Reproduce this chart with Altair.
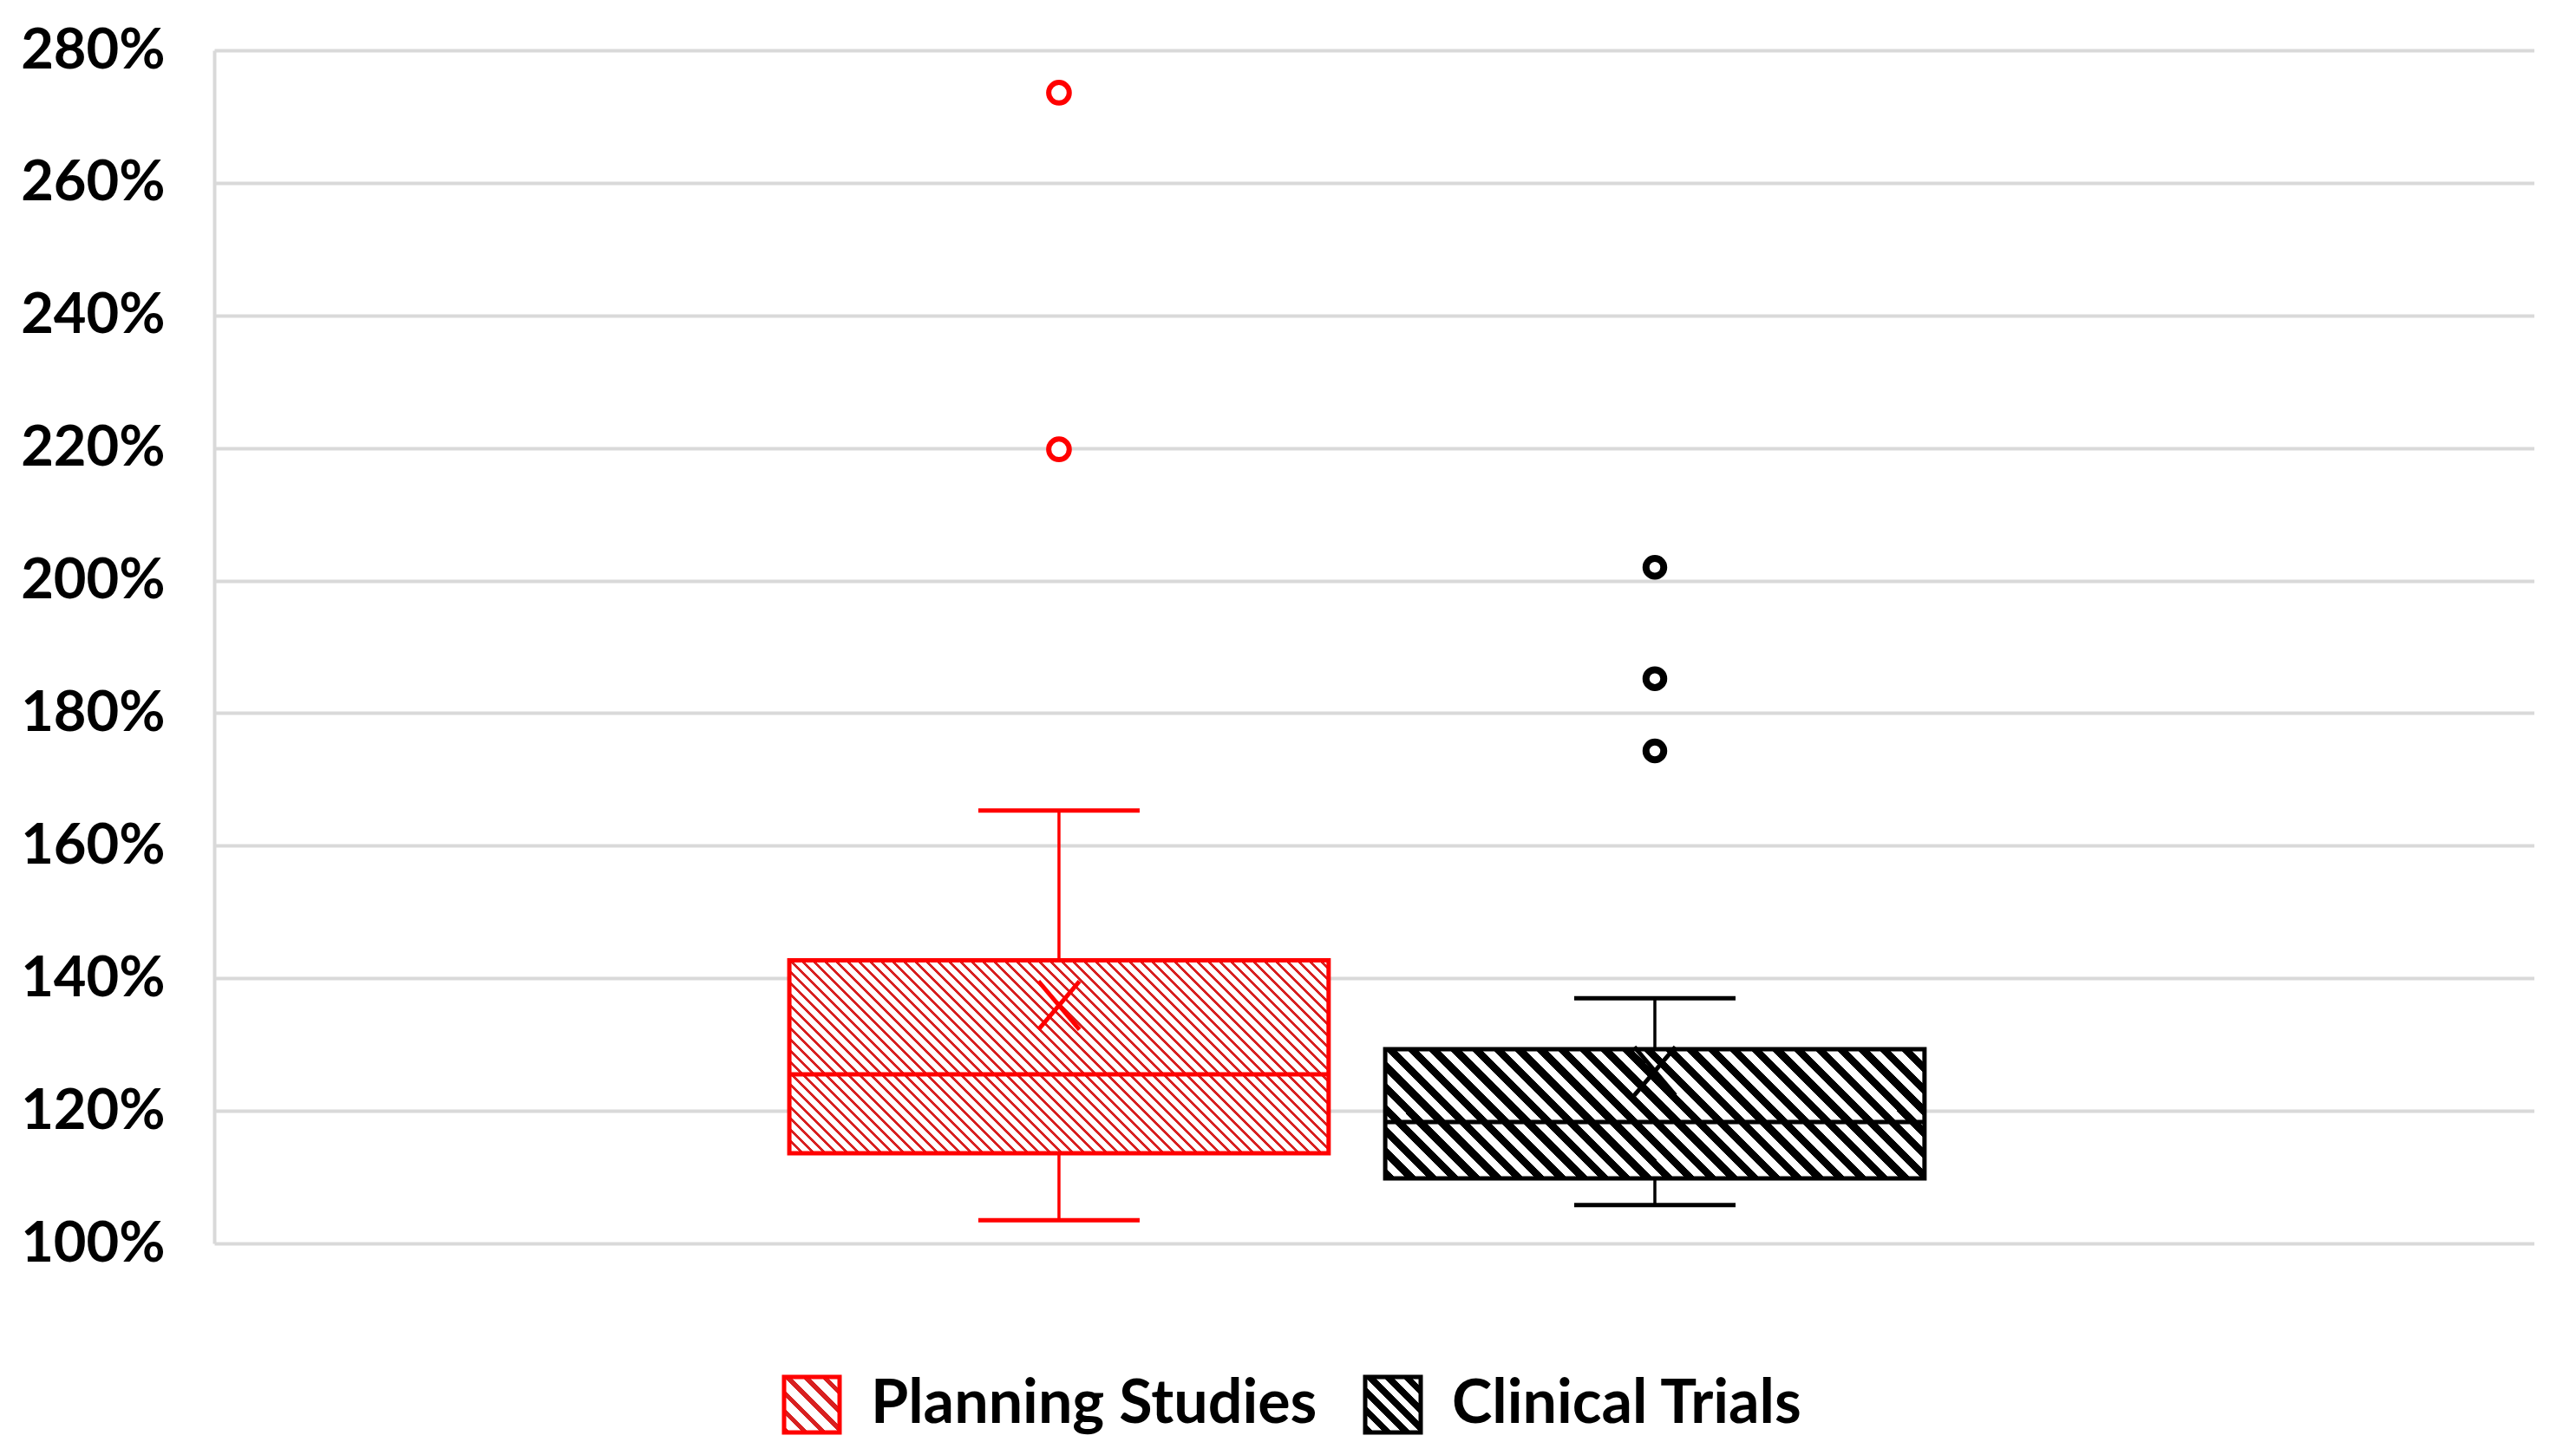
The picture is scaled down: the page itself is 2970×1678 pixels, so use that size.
import math
import altair as alt
import pandas as pd

# ---------------- data ----------------
series = ["Planning Studies", "Clinical Trials"]
colors = ["#ff0000", "#000000"]
hatch_colors = ["#d82020", "#000000"]
q1 = [1.136, 1.098]
median = [1.255, 1.183]
q3 = [1.427, 1.293]
whisker_low = [1.035, 1.058]
whisker_high = [1.653, 1.370]
mean = [1.359, 1.260]
outlier_series = ["Planning Studies", "Planning Studies",
                  "Clinical Trials", "Clinical Trials", "Clinical Trials"]
outlier_values = [2.736, 2.198, 2.020, 1.852, 1.743]
y_ticks = [1.0, 1.2, 1.4, 1.6, 1.8, 2.0, 2.2, 2.4, 2.6, 2.8]

# ---------------- layout / style ----------------
PLOT_W, PLOT_H = 2675, 1376
Y_MIN, Y_MAX = 1.0, 2.8
BOX_W = 622
PX_PER_UNIT = PLOT_H / (Y_MAX - Y_MIN)
FONT = "Lato"
GRID = "#d9d9d9"


def hatch(W, H, period, frac, line, bg="#ffffff"):
    """Diagonal (45 deg, top-left -> bottom-right) stripes as a hard-stop gradient."""
    inv = 1.0 / H ** 2 + 1.0 / W ** 2
    k = (1.0 / H + 1.0 / W) / inv
    x2 = k / H
    y2 = 1.0 - k / W
    n = (W + H) / math.sqrt(2) / period
    stops = []
    i = 0
    while i / n < 1:
        o0 = i / n
        o1 = min((i + frac) / n, 1.0)
        o2 = min((i + 1) / n, 1.0)
        stops += [(o0, line), (o1, line), (o1, bg), (o2, bg)]
        i += 1
    return {"gradient": "linear", "x1": 0, "y1": 1, "x2": round(x2, 6), "y2": round(y2, 6),
            "stops": [{"offset": round(o, 6), "color": c} for o, c in stops]}


def gradient_expr(g):
    stops = ",".join("{offset:%s,color:'%s'}" % (s["offset"], s["color"]) for s in g["stops"])
    return "{gradient:'linear',x1:%s,y1:%s,x2:%s,y2:%s,stops:[%s]}" % (
        g["x1"], g["y1"], g["x2"], g["y2"], stops)


boxes = pd.DataFrame({
    "group": [""] * len(series),
    "series": series,
    "q1": q1, "median": median, "q3": q3,
    "low": whisker_low, "high": whisker_high, "mean": mean,
})
outliers = pd.DataFrame({
    "group": [""] * len(outlier_series),
    "series": outlier_series,
    "value": outlier_values,
})

x_enc = alt.X("group:N", axis=None,
              scale=alt.Scale(paddingInner=0, paddingOuter=0.4734, align=0.4846))
xo_enc = alt.XOffset("series:N",
                     scale=alt.Scale(domain=series, paddingInner=0.095, paddingOuter=0.0475))
y_scale = alt.Scale(domain=[Y_MIN, Y_MAX], nice=False, zero=False)


def Y(field):
    return alt.Y(f"{field}:Q", scale=y_scale, title=None,
                 axis=alt.Axis(values=y_ticks, format=".0%"))


layers = []

# legend-providing layer (hidden behind the boxes)
legend_fills = [
    {"expr": gradient_expr(hatch(64, 64, 15, 0.35, hatch_colors[0]))},
    {"expr": gradient_expr(hatch(64, 64, 15, 0.5, hatch_colors[1]))},
]
legend_kw = dict(orient="none", legendX=654, legendY=1527, direction="horizontal",
                 title=None, symbolType="square", symbolSize=4096, symbolStrokeWidth=5,
                 labelFont=FONT, labelFontSize=70, labelFontWeight="bold",
                 labelColor="#000000", labelOffset=33, columnPadding=45,
                 labelLimit=2000, padding=0)
layers.append(
    alt.Chart(boxes).mark_point(shape="square", size=1, filled=True, opacity=1, strokeWidth=5)
    .encode(
        x=x_enc, xOffset=xo_enc, y=Y("median"),
        fill=alt.Fill("series:N", scale=alt.Scale(domain=series, range=legend_fills),
                      legend=alt.Legend(**legend_kw)),
        stroke=alt.Stroke("series:N", scale=alt.Scale(domain=series, range=colors),
                          legend=alt.Legend(**legend_kw)),
    )
)

for i, s in enumerate(series):
    base = alt.Chart(boxes).transform_filter(alt.datum.series == s)
    col = colors[i]
    H = (q3[i] - q1[i]) * PX_PER_UNIT
    fill = hatch(BOX_W, H, 9.2 if i == 0 else 17.5, 0.33 if i == 0 else 0.5, hatch_colors[i])

    # whiskers
    layers.append(base.mark_rule(color=col, strokeWidth=3.5, opacity=1)
                  .encode(x=x_enc, xOffset=xo_enc, y=Y("low"), y2="q1"))
    layers.append(base.mark_rule(color=col, strokeWidth=3.5, opacity=1)
                  .encode(x=x_enc, xOffset=xo_enc, y=Y("q3"), y2="high"))
    # caps
    for f in ["low", "high"]:
        layers.append(base.mark_tick(color=col, size=186, thickness=5, opacity=1)
                      .encode(x=x_enc, xOffset=xo_enc, y=Y(f)))
    # box
    layers.append(base.mark_bar(fill=fill, stroke=col, strokeWidth=5, opacity=1)
                  .encode(x=x_enc, xOffset=xo_enc, y=Y("q1"), y2="q3"))
    # median
    layers.append(base.mark_tick(color=col, size=BOX_W, thickness=5, opacity=1)
                  .encode(x=x_enc, xOffset=xo_enc, y=Y("median")))
    # mean (X drawn as two strokes)
    for path in ["M-0.85,-1L0.85,1", "M-0.85,1L0.85,-1"]:
        layers.append(base.mark_point(shape=path, size=3100, filled=False, stroke=col,
                                      strokeWidth=5, opacity=1)
                      .encode(x=x_enc, xOffset=xo_enc, y=Y("mean")))
    # outliers
    layers.append(
        alt.Chart(outliers).transform_filter(alt.datum.series == s)
        .mark_point(shape="circle", filled=True, fill="#ffffff", stroke=col,
                    strokeWidth=6 if i == 0 else 8, size=560 if i == 0 else 420, opacity=1)
        .encode(x=x_enc, xOffset=xo_enc, y=Y("value"))
    )

chart = (
    alt.layer(*layers)
    .properties(width=PLOT_W, height=PLOT_H,
                padding={"left": 15, "top": 18, "right": 0, "bottom": 0},
                background="#ffffff")
    .configure_view(stroke=None)
    .configure_axis(
        labelFont=FONT, labelFontSize=65, labelFontWeight="bold", labelColor="#000000",
        labelPadding=57, ticks=False, domainColor=GRID, domainWidth=4,
        gridColor=GRID, gridWidth=4, grid=True,
    )
)

chart.save("out.html", embed_options={"renderer": "svg", "actions": False})
